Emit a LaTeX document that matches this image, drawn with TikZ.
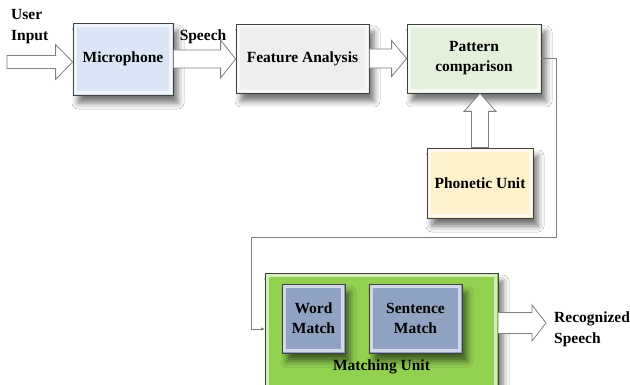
\documentclass[tikz,border=0pt]{standalone}
\usepackage{fontspec}
\setmainfont{Liberation Serif}
\usetikzlibrary{calc,shadows.blur,arrows.meta}

\definecolor{micblue}{HTML}{DBE5F5}
\definecolor{featgrey}{HTML}{EEEEEE}
\definecolor{patgreen}{HTML}{E4F0DC}
\definecolor{phoncream}{HTML}{FDF2CC}
\definecolor{matchgreen}{HTML}{92D050}
\definecolor{slate}{HTML}{8FA2C1}
\definecolor{arrowgrey}{HTML}{7F7F7F}

\tikzset{
  box/.style={draw=black!75, line width=0.8pt, inner sep=2pt, align=center,
    font=\fontsize{15.5}{20}\selectfont\bfseries,
    blur shadow={shadow xshift=5pt, shadow yshift=-8pt, shadow blur radius=6pt, shadow opacity=55}},
  lbl/.style={font=\fontsize{15.5}{21}\selectfont\bfseries, align=left, inner sep=0pt},
  barrow/.style={draw=arrowgrey, fill=white, line width=0.8pt, line join=miter},
  conn/.style={draw=arrowgrey, line width=0.8pt},
  bevel/.style={draw=white, opacity=0.6, line width=2.5pt}
}

% block arrow pointing right: start, target, shaft half, head half, head length
\newcommand\rblock[5]{\draw[barrow] let \p1=(#1), \p2=(#2) in
  (\x1,\y1+#3) -- (\x2-#5,\y1+#3) -- (\x2-#5,\y1+#4) -- (\x2,\y1)
  -- (\x2-#5,\y1-#4) -- (\x2-#5,\y1-#3) -- (\x1,\y1-#3) -- cycle;}
% block arrow pointing up
\newcommand\ublock[5]{\draw[barrow] let \p1=(#1), \p2=(#2) in
  (\x1+#3,\y1) -- (\x1+#3,\y2-#5) -- (\x1+#4,\y2-#5) -- (\x1,\y2)
  -- (\x1-#4,\y2-#5) -- (\x1-#3,\y2-#5) -- (\x1-#3,\y1) -- cycle;}
% light inner edge of a box
\newcommand\bevelbox[1]{\draw[bevel] ([shift={(3pt,-3pt)}]#1.north west) rectangle ([shift={(-3pt,3pt)}]#1.south east);}

\begin{document}
\begin{tikzpicture}[x=1pt,y=-1pt]
\clip (0,0) rectangle (630,385);
\fill[white] (0,0) rectangle (630,385);

% processing chain
\node[box, fill=micblue, minimum width=100pt, minimum height=72pt] (mic) at (123,59) {Microphone};
\node[box, fill=featgrey, minimum width=133pt, minimum height=69pt] (feat) at (302.5,58.5) {Feature Analysis};
\node[box, fill=patgreen, minimum width=134pt, minimum height=69pt] (pat) at (474,58.5) {Pattern\\comparison};
\node[box, fill=phoncream, minimum width=106pt, minimum height=70pt] (phon) at (480,183) {Phonetic Unit};
\foreach \n in {mic,feat,pat,phon} {\bevelbox{\n}}

% matching unit with its two parts
\node[box, fill=matchgreen, minimum width=233pt, minimum height=122pt] (match) at (381.5,334) {};
\bevelbox{match}
\node[box, fill=slate, minimum width=63pt, minimum height=69pt] (word) at (313.5,318.5) {Word\\Match};
\node[box, fill=slate, minimum width=93pt, minimum height=69pt] (sent) at (415.5,318.5) {Sentence\\Match};
\bevelbox{word}
\bevelbox{sent}
\node[lbl] (mlbl) at (381.5,367) {Matching Unit};

% labels
\node[lbl, anchor=north west] (user) at (11,9) {User\\Input};
\node[lbl] (speech) at (203,37) {Speech};
\node[lbl, anchor=north west] (recog) at (554,312) {Recognized\\Speech};

% block arrows
\coordinate (ins) at (7,62);
\rblock{ins}{mic.west}{6.5pt}{17.5pt}{17pt}
\rblock{mic.east}{feat.west}{9pt}{19pt}{15pt}
\rblock{feat.east}{pat.west}{9.5pt}{18pt}{15pt}
\ublock{phon.north}{pat.south}{8.5pt}{16pt}{18pt}
\coordinate (outs) at (498,323);
\coordinate (oute) at (546,323);
\rblock{outs}{oute}{10.5pt}{18pt}{14pt}

% feedback line into the matching unit
\coordinate (mi) at (265,329);
\draw[conn, -{Latex[length=4pt,width=3.5pt]}] (pat.east) -| (556,237) -| (251,329) -- (mi);
\end{tikzpicture}
\end{document}
